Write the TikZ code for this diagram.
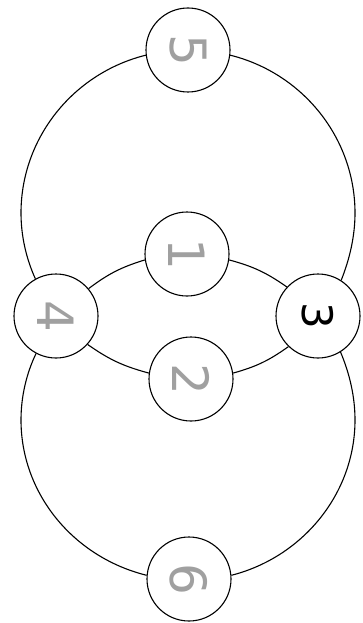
\documentclass[tikz,border=0pt]{standalone}
\usepackage{fontspec}
\setmainfont{DejaVu Sans}
\definecolor{pencil}{HTML}{A0A0A0}
\begin{document}
\begin{tikzpicture}[x=1pt,y=-1pt,
  vert/.style={circle,draw=black,line width=1.1pt,fill=white,minimum size=84pt,inner sep=0pt},
  hand/.style={text=pencil,font=\fontsize{50}{52}\selectfont,rotate=-90,inner sep=0pt},
  printed/.style={text=black,font=\fontsize{42}{44}\selectfont,rotate=-90,inner sep=0pt},
  link/.style={line width=1.1pt,draw=black}]
\useasboundingbox[fill=white] (0,0) rectangle (363,623);
\node[vert] (n5) at (188,50) {};
\node[vert] (n1) at (187,254) {};
\node[vert] (n4) at (56,316) {};
\node[vert] (n3) at (318,316) {};
\node[vert] (n2) at (191,379) {};
\node[vert] (n6) at (189,579) {};
\node[hand] (t5) at (n5) {5};
\node[hand] (t1) at (n1) {1};
\node[hand] (t4) at (n4) {4};
\node[printed] (t3) at (n3) {3};
\node[hand] (t2) at (n2) {2};
\node[hand] (t6) at (n6) {6};
% outer upper arcs
\draw[link] (n5.187) .. controls (72.9,73.3) and (21,138.4) .. (21,213)
  .. controls (21,236.1) and (26.3,258.9) .. (n4.119);
\draw[link] (n5.353) .. controls (303.1,73.3) and (355,138.4) .. (355,213)
  .. controls (355,236.1) and (349.7,258.9) .. (n3.57);
% outer lower arcs
\draw[link] (n4.242) .. controls (26.5,373.3) and (21,396.4) .. (21,420)
  .. controls (21,493.2) and (72.9,557) .. (n6.175);
\draw[link] (n3.302) .. controls (349.5,373.3) and (355,396.4) .. (355,420)
  .. controls (355,493.2) and (303.1,557) .. (n6.5);
% inner edges
\draw[link] (n4.40) to[bend left=10] (n1.188);
\draw[link] (n1.352) to[bend left=10] (n3.137);
\draw[link] (n4.318) to[bend right=10] (n2.172);
\draw[link] (n2.8) to[bend right=10] (n3.226);
\end{tikzpicture}
\end{document}
